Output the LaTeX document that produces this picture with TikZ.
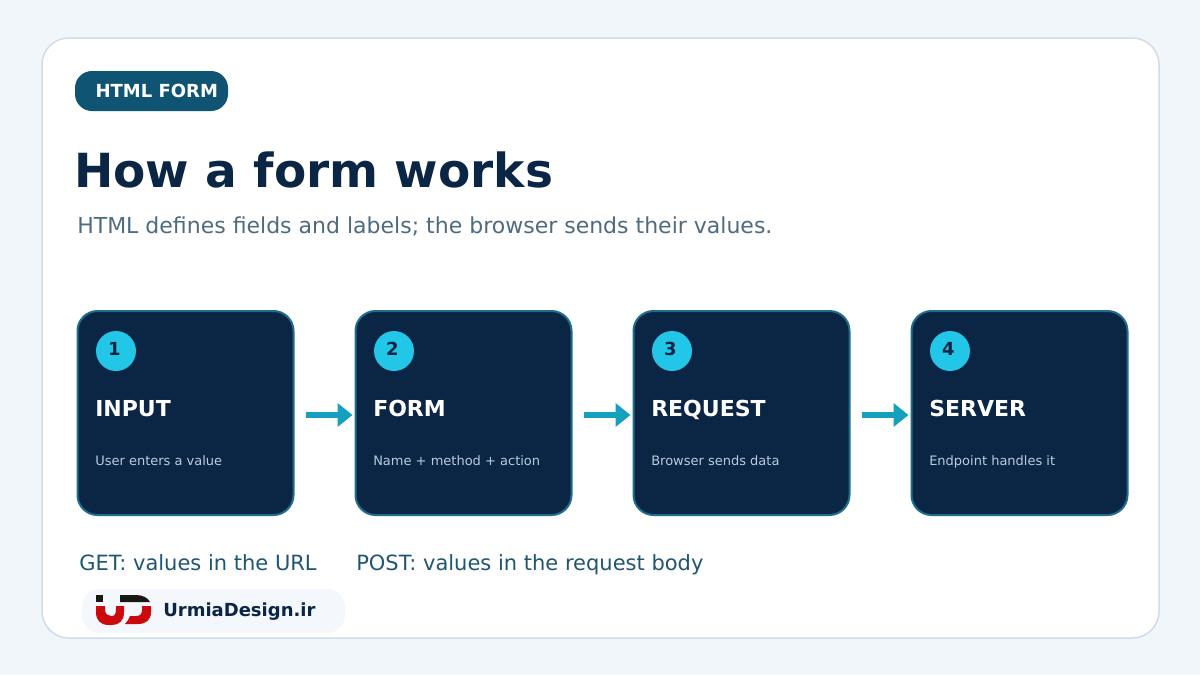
\documentclass[tikz,border=0pt]{standalone}
\usepackage{fontspec}
\setmainfont{DejaVu Sans}
\usetikzlibrary{arrows.meta}
\definecolor{pagetint}{RGB}{241,246,250}
\definecolor{panelline}{RGB}{206,221,233}
\definecolor{badgeblue}{RGB}{15,84,114}
\definecolor{cardnavy}{RGB}{11,37,69}
\definecolor{cardline}{RGB}{31,108,140}
\definecolor{discblue}{RGB}{34,199,232}
\definecolor{flowblue}{RGB}{22,160,192}
\definecolor{subgrey}{RGB}{79,107,128}
\definecolor{notesblue}{RGB}{31,86,115}
\definecolor{captiongrey}{RGB}{185,204,220}
\definecolor{logopill}{RGB}{244,248,252}
\definecolor{logored}{RGB}{204,10,14}
\definecolor{logoblack}{RGB}{26,24,20}

\begin{document}
\begin{tikzpicture}[x=0.75pt,y=-0.75pt,
    card/.style={draw=cardline,fill=cardnavy,line width=1.5pt,rounded corners=15pt,
      minimum width=162pt,minimum height=153pt,inner sep=0pt},
    numdisc/.style={circle,fill=discblue,minimum size=30pt,inner sep=0pt},
    numtext/.style={anchor=base,inner sep=0pt,text=cardnavy,
      font=\bfseries\fontsize{13.5}{16}\selectfont},
    cardtitle/.style={anchor=base west,inner sep=0pt,text=white,
      font=\bfseries\fontsize{16.5}{20}\selectfont},
    caption/.style={anchor=base west,inner sep=0pt,text=captiongrey,
      font=\fontsize{9.75}{12}\selectfont},
    notes/.style={anchor=base west,inner sep=0pt,text=notesblue,
      font=\fontsize{15.75}{18}\selectfont},
    flow/.style={-{Triangle[length=11.25pt,width=17.25pt]},flowblue,line width=4.5pt}]
  \useasboundingbox (0,0) rectangle (1200,675);
  \fill[pagetint] (0,0) rectangle (1200,675);
  \draw[panelline,fill=white,line width=1.125pt,rounded corners=20pt] (42,38) rectangle (1159,638);

  \node[fill=badgeblue,rounded corners=12.75pt,minimum width=114.75pt,minimum height=30pt,inner sep=0pt] (badge) at (151.5,91) {};
  \node[anchor=base west,inner sep=0pt,text=white,font=\bfseries\fontsize{13.5}{16}\selectfont] (badgetext) at (95.3,97) {HTML FORM};
  \node[anchor=base west,inner sep=0pt,text=cardnavy,font=\bfseries\fontsize{35.25}{42}\selectfont] (title) at (74,187) {How a form works};
  \node[anchor=base west,inner sep=0pt,text=subgrey,font=\fontsize{16.5}{20}\selectfont] (subtitle) at (77,233) {HTML defines fields and labels; the browser sends their values.};

  % cards
  \node[card] (input) at (185.5,413) {};
  \node[card] (form) at (463.5,413) {};
  \node[card] (request) at (741.5,413) {};
  \node[card] (server) at (1019.5,413) {};

  \node[numdisc] (disc1) at (116,351) {};
  \node[numdisc] (disc2) at (394,351) {};
  \node[numdisc] (disc3) at (672,351) {};
  \node[numdisc] (disc4) at (950,351) {};
  \node[numtext] (num1) at (114.3,355) {1};
  \node[numtext] (num2) at (392.3,355) {2};
  \node[numtext] (num3) at (670.3,355) {3};
  \node[numtext] (num4) at (948.3,355) {4};

  \node[cardtitle] (inputtitle) at (95,416) {INPUT};
  \node[cardtitle] (formtitle) at (373,416) {FORM};
  \node[cardtitle] (requesttitle) at (651,416) {REQUEST};
  \node[cardtitle] (servertitle) at (929,416) {SERVER};

  \node[caption] (inputtext) at (95,465) {User enters a value};
  \node[caption] (formtext) at (373,465) {Name + method + action};
  \node[caption] (requesttext) at (651,465) {Browser sends data};
  \node[caption] (servertext) at (929,465) {Endpoint handles it};

  % arrows
  \draw[flow,shorten <=8.25pt,shorten >=1.5pt] ([yshift=-1.5pt]input.east) -- ([yshift=-1.5pt]form.west);
  \draw[flow,shorten <=8.25pt,shorten >=1.5pt] ([yshift=-1.5pt]form.east) -- ([yshift=-1.5pt]request.west);
  \draw[flow,shorten <=8.25pt,shorten >=1.5pt] ([yshift=-1.5pt]request.east) -- ([yshift=-1.5pt]server.west);

  \node[notes] (getnote) at (79,570) {GET: values in the URL};
  \node[notes] (postnote) at (356,570) {POST: values in the request body};

  % logo
  \node[fill=logopill,rounded corners=13.5pt,minimum width=197.25pt,minimum height=33pt,inner sep=0pt] (logobox) at (213.5,611) {};
  \fill[logoblack] (96,595) rectangle (103,602);
  \fill[logoblack] (120,595) -- (136,595) .. controls (143,595) and (148,598) .. (150,602) -- (120,602) -- cycle;
  \fill[logored] (96,606) -- (105,606) -- (105,609) .. controls (105,614) and (108,616) .. (111,616)
    -- (112,616) .. controls (115,616) and (116,613) .. (116,609) -- (116,606) -- (124,606)
    -- (124,612) .. controls (124,621) and (119,625) .. (112,625) -- (109,625)
    .. controls (100,625) and (96,620) .. (96,612) -- cycle;
  \fill[logored] (142,606) -- (151,606) -- (151,612) .. controls (151,620) and (146,624) .. (138,624)
    -- (125,624) .. controls (127,622) and (129,619) .. (130,616) -- (136,616)
    .. controls (140,616) and (142,614) .. (142,610) -- cycle;
  \node[anchor=base west,inner sep=0pt,text=cardnavy,font=\bfseries\fontsize{13.5}{16}\selectfont] (logotext) at (163,616.5) {UrmiaDesign.ir};
\end{tikzpicture}
\end{document}
